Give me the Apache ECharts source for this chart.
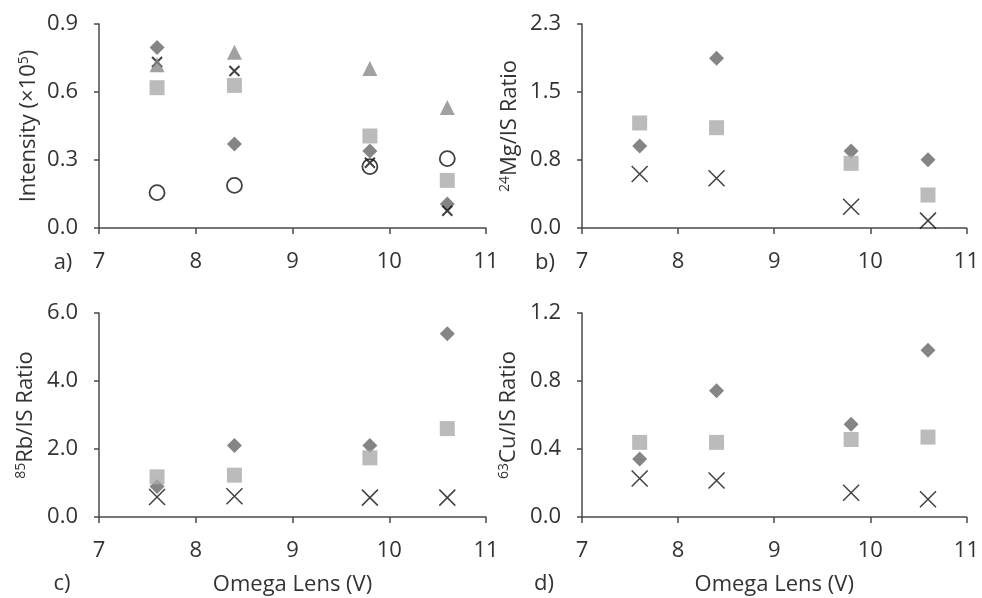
<!DOCTYPE html>
<html>
<head>
    <meta charset="utf-8">
    <script src="https://cdn.jsdelivr.net/npm/echarts@6/dist/echarts.min.js"></script>
    <style type="text/css">
        html, body { width: 100%; height: 100%; margin: 0; background: #fff; }
        #chart { width: 982px; height: 598px; }
    </style>
</head>
<body>
<div id="chart"></div>
<script type="text/javascript">
    // Omega lens voltages (x values shared by every panel)
    const omega = [7.6, 8.4, 9.8, 10.6];
    const xTicks = [7, 8, 9, 10, 11];

    // a) intensity (x10^5)
    const intDiamond  = [0.796, 0.371, 0.340, 0.106];
    const intTriangle = [0.720, 0.775, 0.704, 0.532];
    const intSquare   = [0.619, 0.629, 0.406, 0.210];
    const intCross    = [0.732, 0.693, 0.288, 0.076];
    const intCircle   = [0.156, 0.188, 0.271, 0.306];

    // b) 24Mg/IS ratio
    const mgDiamond = [0.924, 1.913, 0.868, 0.770];
    const mgSquare  = [1.184, 1.131, 0.729, 0.372];
    const mgCross   = [0.609, 0.560, 0.240, 0.083];

    // c) 85Rb/IS ratio
    const rbDiamond = [0.90, 2.10, 2.10, 5.39];
    const rbSquare  = [1.18, 1.23, 1.74, 2.60];
    const rbCross   = [0.59, 0.61, 0.57, 0.57];

    // d) 63Cu/IS ratio
    const cuDiamond = [0.341, 0.742, 0.546, 0.981];
    const cuSquare  = [0.439, 0.439, 0.456, 0.470];
    const cuCross   = [0.227, 0.215, 0.143, 0.104];

    // y axis ranges: [min, max, interval]
    const yRanges = [[0, 0.9, 0.3], [0, 2.3, 2.3 / 3], [0, 6, 2], [0, 1.2, 0.4]];
    const panelLabels = ['a)', 'b)', 'c)', 'd)'];

    const FONT = 'Open Sans';
    const FS = 22;
    const TXT = '#333';
    const AXIS = '#4a4a4a';
    const CROSS = 'path://M0,0L10,10M10,0L0,10';

    function pts(ys) {
        return omega.map(function (x, i) { return [x, ys[i]]; });
    }

    var grids = [
        {left: 99, top: 24, width: 387, height: 204},
        {left: 582, top: 24, width: 387, height: 204},
        {left: 99, top: 313, width: 387, height: 204},
        {left: 582, top: 313, width: 387, height: 204}
    ];

    var xAxes = grids.map(function (g, i) {
        return {
            type: 'value', gridIndex: i, min: xTicks[0], max: xTicks[xTicks.length - 1], interval: 1,
            name: i >= 2 ? 'Omega Lens (V)' : '',
            nameLocation: 'middle', nameGap: 57,
            nameTextStyle: {fontFamily: FONT, fontSize: FS, color: TXT},
            splitLine: {show: false},
            axisLine: {onZero: false, lineStyle: {color: AXIS, width: 1.5}},
            axisTick: {length: 6, lineStyle: {color: AXIS, width: 1.5}},
            axisLabel: {margin: 23, fontFamily: FONT, fontSize: FS, color: TXT}
        };
    });

    var yNames = [
        'Intensity (×10{sup|5})',
        '{sup|24}Mg/IS Ratio',
        '{sup|85}Rb/IS Ratio',
        '{sup|63}Cu/IS Ratio'
    ];
    var yNameGaps = [59, 61, 62, 62];

    var yAxes = grids.map(function (g, i) {
        var r = yRanges[i];
        return {
            type: 'value', gridIndex: i, min: r[0], max: r[1], interval: r[2],
            name: yNames[i], nameLocation: 'middle', nameGap: yNameGaps[i],
            nameTextStyle: {
                fontFamily: FONT, fontSize: FS, color: TXT,
                rich: {sup: {fontFamily: FONT, fontSize: 14, color: TXT, verticalAlign: 'top', padding: [0, 0, 9, 0]}}
            },
            splitLine: {show: false},
            axisLine: {show: true, lineStyle: {color: AXIS, width: 1.5}},
            axisTick: {show: true, length: 5, lineStyle: {color: AXIS, width: 1.5}},
            axisLabel: {margin: 21, fontFamily: FONT, fontSize: FS, color: TXT,
                formatter: function (v) { return (+v).toFixed(1); }}
        };
    });

    function sc(i, data, kind) {
        var s = {type: 'scatter', xAxisIndex: i, yAxisIndex: i, data: pts(data), silent: true};
        if (kind === 'diamond') {
            s.symbol = 'diamond'; s.symbolSize = 15; s.itemStyle = {color: '#666'};
        } else if (kind === 'square') {
            s.symbol = 'rect'; s.symbolSize = 15; s.itemStyle = {color: '#aaa'};
        } else if (kind === 'triangle') {
            s.symbol = 'triangle'; s.symbolSize = 15; s.itemStyle = {color: '#8a8a8a'};
        } else if (kind === 'circle') {
            s.symbol = 'circle'; s.symbolSize = 15;
            s.itemStyle = {color: '#fff', borderColor: '#111', borderWidth: 1.8};
        } else if (kind === 'crossSmall') {
            s.symbol = CROSS; s.symbolSize = 10;
            s.itemStyle = {color: 'none', borderColor: '#111', borderWidth: 2};
        } else if (kind === 'cross') {
            s.symbol = CROSS; s.symbolSize = 16;
            s.itemStyle = {color: 'none', borderColor: '#111', borderWidth: 1.5};
        }
        return s;
    }

    var series = [
        sc(0, intCircle, 'circle'),
        sc(0, intDiamond, 'diamond'),
        sc(0, intCross, 'crossSmall'),
        sc(0, intTriangle, 'triangle'),
        sc(0, intSquare, 'square'),

        sc(1, mgDiamond, 'diamond'),
        sc(1, mgSquare, 'square'),
        sc(1, mgCross, 'cross'),

        sc(2, rbDiamond, 'diamond'),
        sc(2, rbSquare, 'square'),
        sc(2, rbCross, 'cross'),

        sc(3, cuDiamond, 'diamond'),
        sc(3, cuSquare, 'square'),
        sc(3, cuCross, 'cross')
    ];

    var labelPos = [[63, 263], [545, 263], [62, 584], [544, 584]];
    var graphics = panelLabels.map(function (t, i) {
        return {
            type: 'text', x: labelPos[i][0], y: labelPos[i][1],
            style: {text: t, fontFamily: FONT, fontSize: FS, fill: TXT, align: 'center', verticalAlign: 'middle'}
        };
    });

    var chart = echarts.init(document.getElementById('chart'));
    chart.setOption({
        animation: false,
        backgroundColor: '#fff',
        grid: grids,
        xAxis: xAxes,
        yAxis: yAxes,
        series: series,
        graphic: graphics
    });
</script>
</body>
</html>
